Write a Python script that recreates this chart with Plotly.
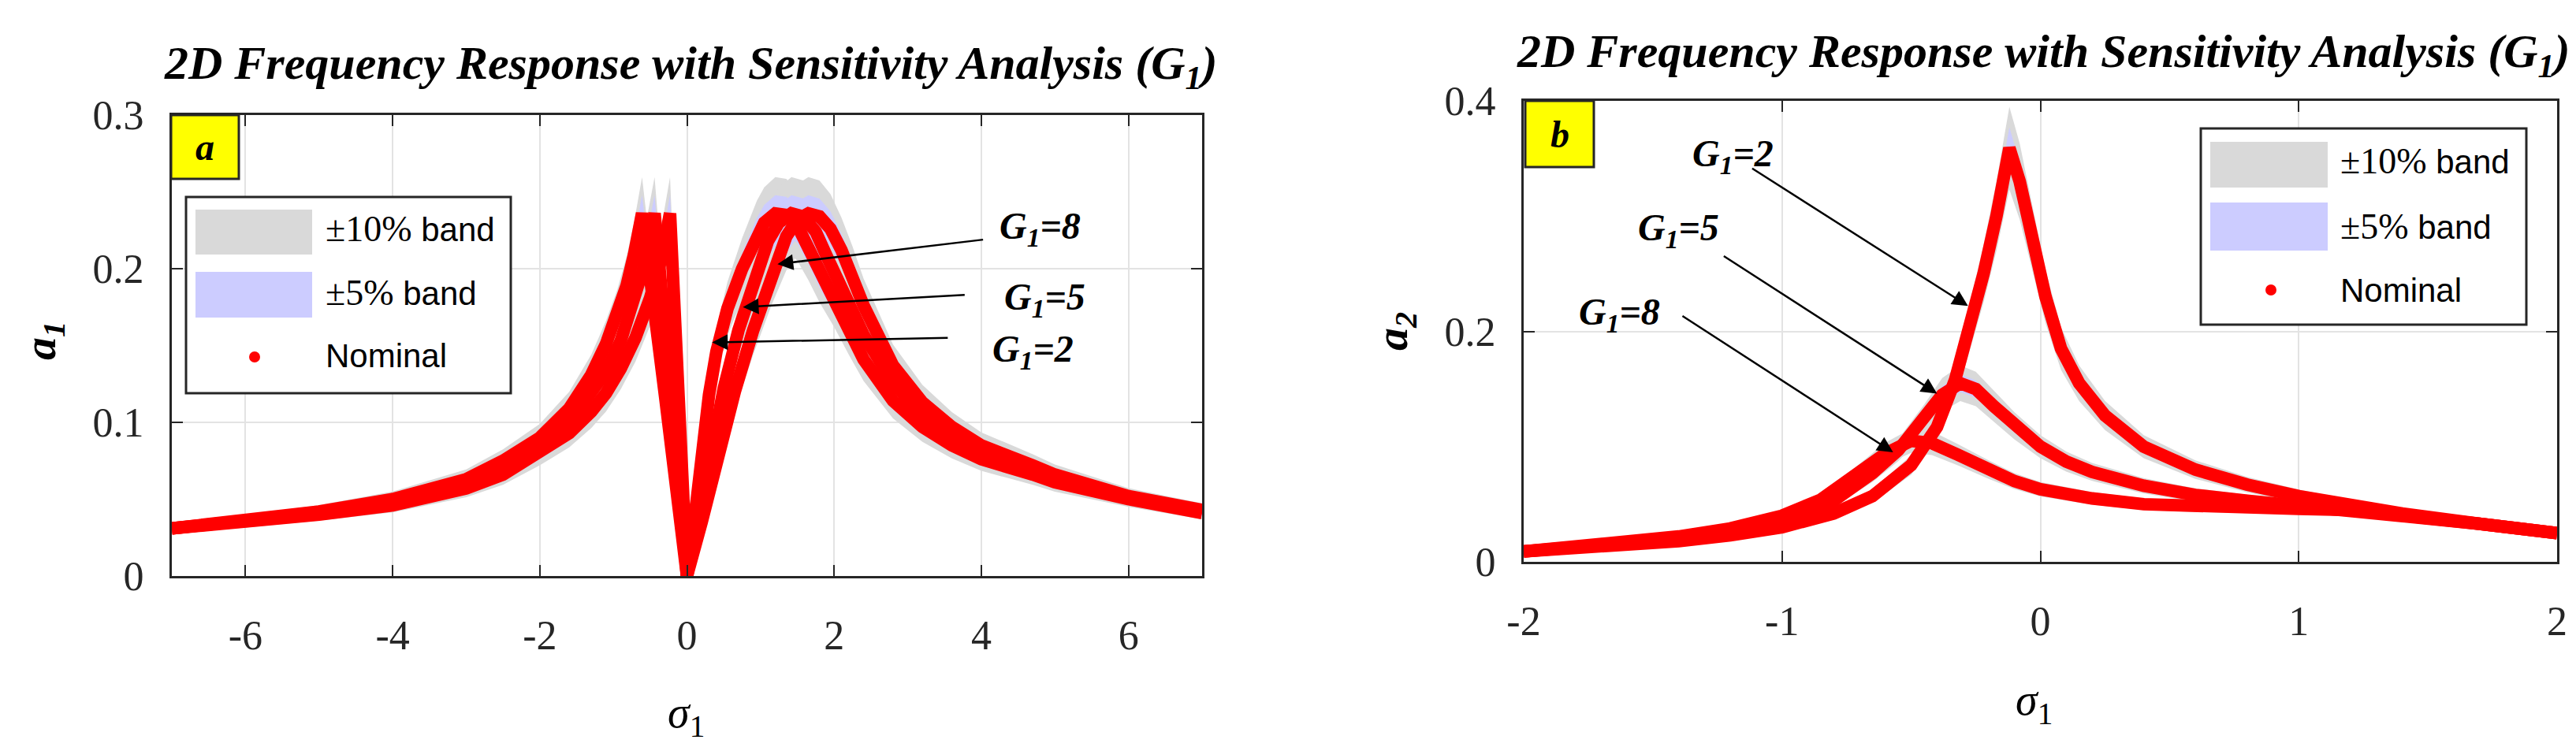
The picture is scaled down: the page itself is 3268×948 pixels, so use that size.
import plotly.graph_objects as go

W, H = 3268, 948

# ---- panel a: a1 against sigma1, one curve per G1 ----
a_g2_x = [-7, -6, -5, -4, -3, -2.5, -2, -1.6, -1.3, -1.1, -0.9, -0.7, -0.5, -0.35, -0.23,
          -0.1, 0, 0.1, 0.2, 0.3, 0.4, 0.55, 0.75, 0.95, 1.05, 1.2, 1.35, 1.5, 1.65, 1.8, 2.0,
          2.2, 2.4, 2.8, 3.2, 3.6, 4.0, 4.7, 5.0, 6.0, 7.0]
a_g2_y = [0.031, 0.035, 0.040, 0.046, 0.057, 0.066, 0.080, 0.093, 0.107, 0.119, 0.135, 0.155,
          0.181, 0.206, 0.236, 0.103, 0.0, 0.036, 0.080, 0.118, 0.146, 0.174, 0.200, 0.222,
          0.230, 0.236, 0.235, 0.228, 0.214, 0.198, 0.180, 0.160, 0.141, 0.114, 0.097, 0.085,
          0.076, 0.066, 0.061, 0.050, 0.041]
a_g5_x = [-7, -6, -5, -4, -3, -2.5, -2, -1.6, -1.3, -1.1, -0.9, -0.75, -0.6, -0.44, -0.22,
          0, 0.15, 0.3, 0.5, 0.7, 0.9, 1.1, 1.25, 1.42, 1.58, 1.75, 1.9, 2.0, 2.2, 2.4, 2.8,
          3.2, 3.6, 4.0, 4.7, 5.0, 6.0, 7.0]
a_g5_y = [0.031, 0.035, 0.041, 0.048, 0.060, 0.070, 0.085, 0.100, 0.119, 0.133, 0.153, 0.173,
          0.199, 0.236, 0.118, 0.0, 0.035, 0.075, 0.122, 0.160, 0.192, 0.218, 0.230, 0.236,
          0.234, 0.224, 0.208, 0.197, 0.177, 0.157, 0.126, 0.105, 0.090, 0.080, 0.069, 0.063,
          0.051, 0.042]
a_g8_x = [-7, -6, -5, -4, -3, -2.5, -2, -1.6, -1.3, -1.1, -0.95, -0.82, -0.72, -0.61, -0.3,
          0, 0.2, 0.4, 0.65, 0.9, 1.15, 1.35, 1.5, 1.65, 1.8, 1.95, 2.1, 2.25, 2.4, 2.8, 3.2,
          3.6, 4.0, 4.7, 5.0, 6.0, 7.0]
a_g8_y = [0.031, 0.036, 0.042, 0.050, 0.063, 0.075, 0.090, 0.109, 0.131, 0.151, 0.169, 0.189,
          0.209, 0.236, 0.118, 0.0, 0.035, 0.075, 0.120, 0.160, 0.196, 0.221, 0.232, 0.236,
          0.234, 0.226, 0.212, 0.195, 0.176, 0.137, 0.113, 0.097, 0.085, 0.072, 0.066, 0.052,
          0.043]

# ---- panel b: a2 against sigma1 ----
b_g2_x = [-2, -1.7, -1.4, -1.2, -1.0, -0.8, -0.65, -0.5, -0.4, -0.33, -0.28, -0.22, -0.17,
          -0.12, -0.08, -0.03, 0.02, 0.08, 0.15, 0.25, 0.4, 0.6, 0.8, 1.0, 1.2, 1.4, 1.7, 2.0]
b_g2_y = [0.009, 0.013, 0.018, 0.023, 0.030, 0.042, 0.057, 0.084, 0.117, 0.158, 0.198, 0.250,
          0.300, 0.359, 0.330, 0.280, 0.230, 0.185, 0.155, 0.127, 0.100, 0.080, 0.067, 0.057,
          0.049, 0.042, 0.033, 0.025]
b_g5_x = [-2, -1.7, -1.4, -1.2, -1.0, -0.8, -0.65, -0.55, -0.45, -0.38, -0.31, -0.25, -0.18,
          -0.1, 0.0, 0.1, 0.2, 0.4, 0.6, 0.8, 1.0, 1.2, 1.4, 1.7, 2.0]
b_g5_y = [0.009, 0.014, 0.020, 0.026, 0.036, 0.053, 0.077, 0.097, 0.124, 0.145, 0.155, 0.150,
          0.135, 0.118, 0.100, 0.087, 0.078, 0.066, 0.058, 0.053, 0.049, 0.045, 0.041, 0.033,
          0.025]
b_g8_x = [-2, -1.7, -1.4, -1.2, -1.0, -0.85, -0.72, -0.6, -0.5, -0.42, -0.32, -0.2, -0.1, 0.0,
          0.2, 0.4, 0.6, 0.8, 1.0, 1.2, 1.4, 1.7, 2.0]
b_g8_y = [0.009, 0.015, 0.022, 0.029, 0.040, 0.054, 0.074, 0.094, 0.105, 0.103, 0.093, 0.080,
          0.070, 0.063, 0.055, 0.050, 0.048, 0.047, 0.046, 0.045, 0.041, 0.033, 0.025]

a_ticks = [-6, -4, -2, 0, 2, 4, 6]
b_ticks = [-2, -1, 0, 1, 2]

band_outer = 0.10
band_inner = 0.05

red = "#ff0000"
gray = "#d9d9d9"
blue = "#ccccff"
ink = "#262626"
serif = "Liberation Serif"
sans = "Liberation Sans"


def px(x):
    return x / W


def py(y):
    return 1 - y / H


fig = go.Figure()


def add_band(x, y, frac, color, xa, ya):
    up = [v * (1 + frac) for v in y]
    lo = [v * (1 - frac) for v in y]
    fig.add_trace(go.Scatter(x=x + x[::-1], y=up + lo[::-1], mode="lines", fill="toself",
                             fillcolor=color, line=dict(width=0, color=color),
                             hoverinfo="skip", showlegend=False, xaxis=xa, yaxis=ya))


panels = [
    ("x", "y", [(a_g2_x, a_g2_y), (a_g5_x, a_g5_y), (a_g8_x, a_g8_y)]),
    ("x2", "y2", [(b_g2_x, b_g2_y), (b_g5_x, b_g5_y), (b_g8_x, b_g8_y)]),
]
for xa, ya, curves in panels:
    for cx, cy in curves:
        add_band(cx, cy, band_outer, gray, xa, ya)
    for cx, cy in curves:
        add_band(cx, cy, band_inner, blue, xa, ya)
    for cx, cy in curves:
        fig.add_trace(go.Scatter(x=cx, y=cy, mode="lines", line=dict(color=red, width=16),
                                 showlegend=False, xaxis=xa, yaxis=ya))

axis_style = dict(showline=True, linecolor=ink, linewidth=3, mirror="ticks", ticks="inside",
                  ticklen=14, tickwidth=2, tickcolor=ink, showgrid=True, gridcolor="#e3e3e3",
                  gridwidth=2, zeroline=False, automargin=False,
                  tickfont=dict(family=serif, size=52, color=ink))

fig.update_layout(
    width=W, height=H, margin=dict(l=0, r=0, t=0, b=0, autoexpand=False),
    paper_bgcolor="white", plot_bgcolor="white", showlegend=False,
    xaxis=dict(domain=[px(210), px(1517)], range=[-7, 7], tickvals=a_ticks,
               ticktext=[str(t) for t in a_ticks], ticklabelstandoff=28, anchor="y",
               **axis_style),
    yaxis=dict(domain=[py(723), py(138)], range=[0, 0.3], tickvals=[0, 0.1, 0.2, 0.3],
               ticktext=["0", "0.1", "0.2", "0.3"], ticklabelstandoff=22, anchor="x",
               **axis_style),
    xaxis2=dict(domain=[px(1925), px(3236)], range=[-2, 2], tickvals=b_ticks,
                ticktext=[str(t) for t in b_ticks], ticklabelstandoff=28, anchor="y2",
                **axis_style),
    yaxis2=dict(domain=[py(705), py(120)], range=[0, 0.4], tickvals=[0, 0.2, 0.4],
                ticktext=["0", "0.2", "0.4"], ticklabelstandoff=22, anchor="x2", **axis_style),
)

title = "<b><i>2D Frequency Response with Sensitivity Analysis (G<sub>1</sub>)</i></b>"
ann = []
shapes = []


def text(x, y, s, size, family=serif, color="black", angle=0, xanchor="center"):
    ann.append(dict(xref="paper", yref="paper", x=x, y=y, text=s, showarrow=False,
                    xanchor=xanchor, yanchor="middle", textangle=angle,
                    font=dict(family=family, size=size, color=color)))


# titles and axis labels
text(px(868), py(76), title, 60)
text(px(2584), py(62), title, 60)
text(px(862), py(900), "<i>σ</i><sub>1</sub>", 56)
text(px(2572), py(884), "<i>σ</i><sub>1</sub>", 56)
text(px(46), py(425), "<b><i>a<sub>1</sub></i></b>", 58, angle=-90)
text(px(1762), py(413), "<b><i>a<sub>2</sub></i></b>", 58, angle=-90)

# panel tags
for x0, y0, x1, y1, letter in [(209, 138, 295, 219, "a"), (1927, 120, 2014, 204, "b")]:
    shapes.append(dict(type="rect", xref="paper", yref="paper", x0=px(x0), x1=px(x1),
                       y0=py(y1), y1=py(y0), fillcolor="#ffff00", line=dict(color=ink, width=3)))
    text(px((x0 + x1) / 2), py((y0 + y1) / 2), "<b><i>" + letter + "</i></b>", 48)

# hand drawn legends (large swatches like the original)
legend_boxes = [
    dict(box=(228, 242, 640, 491), sw=(240, 388), g=(258, 315), b=(337, 395), dot=(315, 445),
         tx=403, ty=(283, 363, 443)),
    dict(box=(2784, 155, 3197, 404), sw=(2796, 2945), g=(172, 230), b=(249, 310),
         dot=(2873, 360), tx=2959, ty=(197, 279, 360)),
]
for L in legend_boxes:
    x0, y0, x1, y1 = L["box"]
    shapes.append(dict(type="rect", xref="paper", yref="paper", x0=px(x0), x1=px(x1),
                       y0=py(y1), y1=py(y0), fillcolor="white", line=dict(color=ink, width=3)))
    for (t0, t1), col in [(L["g"], gray), (L["b"], blue)]:
        shapes.append(dict(type="rect", xref="paper", yref="paper", x0=px(L["sw"][0]),
                           x1=px(L["sw"][1]), y0=py(t1), y1=py(t0), fillcolor=col,
                           line=dict(width=0)))
    dx, dy = L["dot"]
    shapes.append(dict(type="circle", xref="paper", yref="paper", x0=px(dx - 7), x1=px(dx + 7),
                       y0=py(dy + 7), y1=py(dy - 7), fillcolor=red, line=dict(width=0)))
    labels = ["<span style='font-family:Liberation Serif;font-size:46px'>±10%</span> band",
              "<span style='font-family:Liberation Serif;font-size:46px'>±5%</span> band",
              "Nominal"]
    for lab, ty in zip(labels, L["ty"]):
        text(px(L["tx"]), py(ty), lab, 42, family=sans, xanchor="left")

# G1 labels with arrows
arrows = [
    ("x", "y", 4.04, 0.219, 1.23, 0.203, "8", 4.80, 0.226),
    ("x", "y", 3.79, 0.183, 0.76, 0.175, "5", 4.86, 0.180),
    ("x", "y", 3.56, 0.155, 0.34, 0.152, "2", 4.70, 0.146),
    ("x2", "y2", -1.12, 0.342, -0.28, 0.222, "2", -1.19, 0.352),
    ("x2", "y2", -1.23, 0.266, -0.40, 0.146, "5", -1.40, 0.288),
    ("x2", "y2", -1.39, 0.214, -0.57, 0.095, "8", -1.63, 0.215),
]
for xa, ya, tx0, ty0, hx, hy, g, lx, ly in arrows:
    ann.append(dict(xref=xa, yref=ya, axref=xa, ayref=ya, x=hx, y=hy, ax=tx0, ay=ty0, text="",
                    showarrow=True, arrowhead=2, arrowsize=1.6, arrowwidth=2.5,
                    arrowcolor="black"))
    ann.append(dict(xref=xa, yref=ya, x=lx, y=ly, text="<b><i>G<sub>1</sub>=" + g + "</i></b>",
                    showarrow=False, font=dict(family=serif, size=48, color="black")))

fig.update_layout(annotations=ann, shapes=shapes)
fig.write_html("out.html")
